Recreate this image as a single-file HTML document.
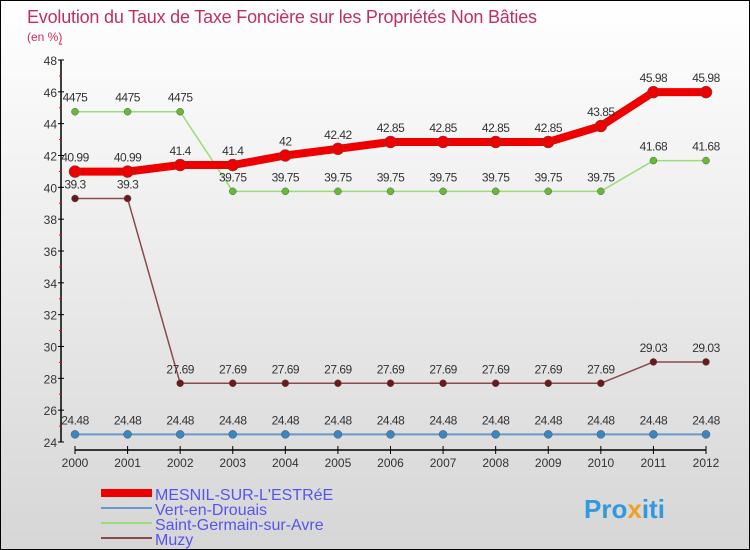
<!DOCTYPE html>
<html><head><meta charset="utf-8"><style>
body{margin:0}
#c{width:750px;height:550px;position:relative;box-sizing:border-box;border:1px solid #000;background:linear-gradient(#ffffff,#d6d6d6);font-family:"Liberation Sans",sans-serif;overflow:hidden}
</style></head><body>
<div id="c">
<svg id="s" width="748" height="548" xmlns="http://www.w3.org/2000/svg">
<text x="26" y="22" font-size="18" letter-spacing="-0.2" fill="#c0305f">Evolution du Taux de Taxe Foncière sur les Propriétés Non Bâties</text>
<text x="26" y="40" font-size="12" fill="#c0305f">(en %)</text>
<g id="axes"></g><g id="series"></g><g id="legend"></g>
<text x="583" y="517" font-size="26" font-weight="bold" fill="#3399dd">Pro<tspan fill="#f0a020">x</tspan>iti</text>
</svg></div>
<script>
const years=[2000,2001,2002,2003,2004,2005,2006,2007,2008,2009,2010,2011,2012];
const mesnil=[40.99,40.99,41.4,41.4,42,42.42,42.85,42.85,42.85,42.85,43.85,45.98,45.98];
const vert=[24.48,24.48,24.48,24.48,24.48,24.48,24.48,24.48,24.48,24.48,24.48,24.48,24.48];
const stg=[44.75,44.75,44.75,39.75,39.75,39.75,39.75,39.75,39.75,39.75,39.75,41.68,41.68];
const muzy=[39.3,39.3,27.69,27.69,27.69,27.69,27.69,27.69,27.69,27.69,27.69,29.03,29.03];
const yTicks=[24,26,28,30,32,34,36,38,40,42,44,46,48];
const seriesNames=["MESNIL-SUR-L'ESTRéE","Vert-en-Drouais","Saint-Germain-sur-Avre","Muzy"];
const NS="http://www.w3.org/2000/svg";
const x=i=>74+i*(705-74)/(years.length-1);
const y=v=>441-(v-24)*(441-59)/24;
function mk(t,a,p){const e=document.createElementNS(NS,t);for(const k in a)e.setAttribute(k,a[k]);p.appendChild(e);return e;}
const ax=document.getElementById('axes');
let e=mk('line',{x1:60,y1:y(48),x2:60,y2:y(24),stroke:'#000','stroke-width':1.5},ax);


yTicks.forEach(v=>{mk('line',{x1:57,y1:y(v),x2:63,y2:y(v),stroke:'#000'},ax);
 mk('line',{x1:58,y1:y(v+1),x2:61,y2:y(v+1),stroke:'#f00'},ax);
 const t=mk('text',{x:56,y:y(v)+5,'font-size':12,'text-anchor':'end',fill:'#333'},ax);t.textContent=v;
 
 });
e=mk('line',{x1:x(0),y1:449,x2:x(12),y2:449,stroke:'#000','stroke-width':1.5},ax);


years.forEach((yr,i)=>{mk('line',{x1:x(i),y1:445,x2:x(i),y2:453,stroke:'#000'},ax);
 const t=mk('text',{x:x(i),y:466,'font-size':12,'text-anchor':'middle',fill:'#333'},ax);t.textContent=yr;
 
 });
const sg=document.getElementById('series');
const defs=[[vert,'#6699cc','#3a86c0',2,4,'vert-en-drouais'],[muzy,'#8a4a4a','#6a1a1a',1.5,3.5,'muzy'],[stg,'#99dd77','#66bb33',1.5,3.5,'saint-germain-sur-avre'],[mesnil,'#ee0000','#ee0000',8,6,'mesnil-sur-lestree']];
defs.forEach(([d,lc,pc,w,r,n])=>{
 const g=mk('g',{},sg);
 
 
 const p=mk('polyline',{points:d.map((v,i)=>x(i)+','+y(v)).join(' '),fill:'none',stroke:lc,'stroke-width':w},g);
 
 
 d.forEach((v,i)=>{const c=mk('circle',{cx:x(i),cy:y(v),r:r,fill:pc,stroke:'#555','stroke-width':0.5},g);
  
  
  const t=mk('text',{x:x(i),y:y(v)-10,'font-size':12,'text-anchor':'middle',fill:'#333','letter-spacing':'-0.5'},g);
  t.textContent=String(v).replace('.',n=='saint-germain-sur-avre'&&v==44.75?'':'.');
  
  });
});
const lg=document.getElementById('legend');
const lcol=['#ee0000','#6699cc','#99dd77','#8a4a4a'],lw=[8,2,2,2];
seriesNames.forEach((nm,i)=>{const yy=492+i*15;
 const g=mk('g',{},lg);
 
 
 mk('line',{x1:100,y1:yy,x2:151,y2:yy,stroke:lcol[i],'stroke-width':lw[i]},g);
 const t=mk('text',{x:154,y:yy+7,'font-size':16,fill:'#5555ee'},g);t.textContent=nm;});
</script>
</body></html>
